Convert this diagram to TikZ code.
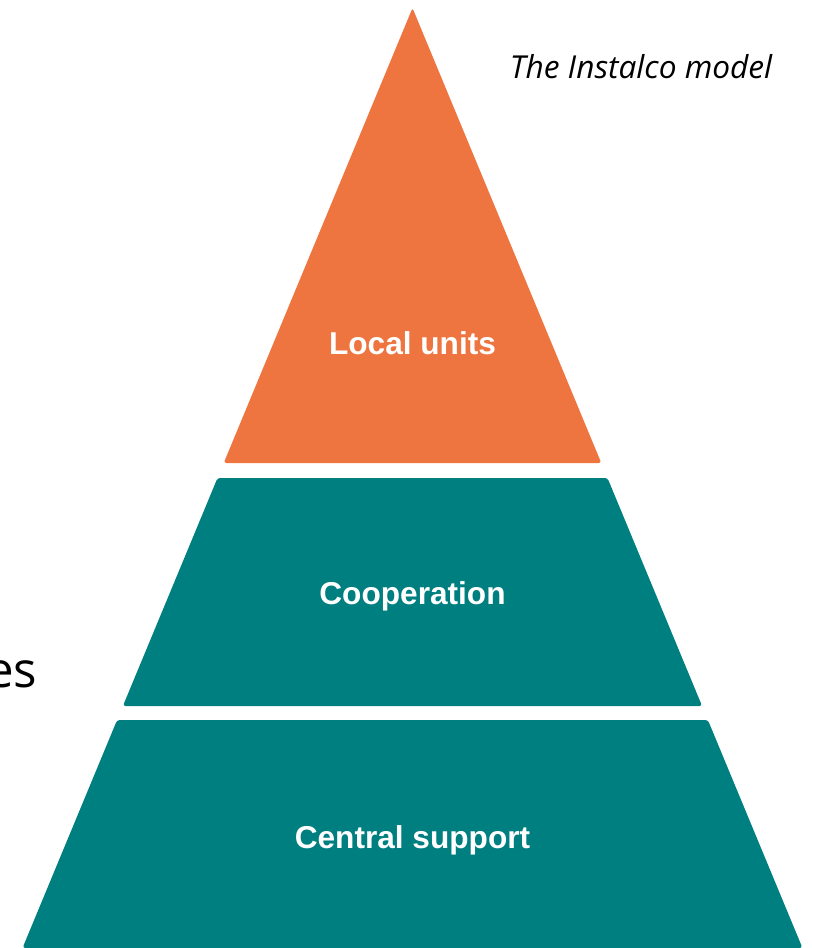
\documentclass[tikz,border=0pt]{standalone}
\usepackage{fontspec}
\setmainfont{Open Sans}
\newfontfamily\arialfont{Liberation Sans}
\usetikzlibrary{positioning}
\definecolor{iorange}{HTML}{EF7540}
\definecolor{iteal}{HTML}{007F80}
\tikzset{
  layer/.style={rounded corners=1.5pt},
  toplayer/.style={layer,fill=iorange},
  baselayer/.style={layer,fill=iteal},
  lvl/.style={anchor=base,text=white,inner sep=0pt,font=\arialfont\bfseries\fontsize{18}{21}\selectfont},
  captxt/.style={anchor=base,inner sep=0pt,font=\itshape\fontsize{18}{21}\selectfont},
}

\begin{document}
\begin{tikzpicture}[x=0.02cm,y=-0.02cm]
  \useasboundingbox (0,0) rectangle (813,948);
  % three layers of the pyramid
  \fill[toplayer] (412.5,8) -- (601.3,463) -- (223.7,463) -- cycle;
  \fill[baselayer] (217.5,478) -- (607.5,478) -- (702.1,706) -- (122.9,706) -- cycle;
  \fill[baselayer] (117.1,720) -- (707.9,720) -- (802.5,948) -- (22.5,948) -- cycle;
  \node[lvl] (local) at (412.5,354) {Local units};
  \node[lvl] (coop) at (412.5,604) {Cooperation};
  \node[lvl] (central) at (412.5,848) {Central support};
  % caption and the cut-off word on the left
  \node[captxt] (title) at (641,78) {The Instalco model};
  \node[anchor=base east,inner sep=0pt,font=\fontsize{28}{32}\selectfont] (es) at (37.5,687) {es};
\end{tikzpicture}
\end{document}
